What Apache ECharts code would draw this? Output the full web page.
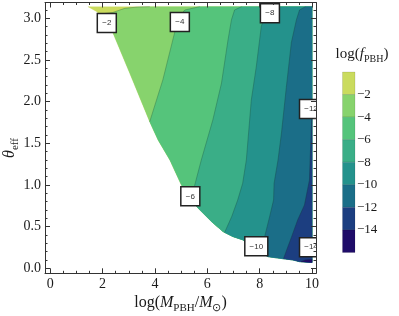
<!DOCTYPE html>
<html>
<head>
<meta charset="utf-8">
<script src="https://cdn.jsdelivr.net/npm/echarts@6/dist/echarts.min.js"></script>
<style>html,body{margin:0;padding:0;background:#fff;}#c{width:399px;height:316px;}</style>
</head>
<body>
<div id="c"></div>
<script>
// ---- tick values ----
const xMajor = [0, 2, 4, 6, 8, 10];
const xMinor = [0, 0.5, 1, 1.5, 2, 2.5, 3, 3.5, 4, 4.5, 5, 5.5, 6, 6.5, 7, 7.5, 8, 8.5, 9, 9.5, 10];
const yMajor = [0, 0.5, 1, 1.5, 2, 2.5, 3];
const yMinor = [0, 0.1, 0.2, 0.3, 0.4, 0.5, 0.6, 0.7, 0.8, 0.9, 1, 1.1, 1.2, 1.3, 1.4, 1.5, 1.6, 1.7, 1.8, 1.9, 2, 2.1, 2.2, 2.3, 2.4, 2.5, 2.6, 2.7, 2.8, 2.9, 3, 3.1];

// ---- data region (lower-left edge of valid region) ----
const yTop = 3.14;
const xRight = 10;
const boundaryX = [1.44, 1.78, 2.09, 2.39, 3.04, 3.80, 4.12, 4.57, 5.01, 5.33, 5.65, 6.16, 6.60, 6.98, 7.36, 7.81, 8.31, 8.76, 9.27, 9.52, 10.0];
const boundaryY = [3.14, 3.08, 2.98, 2.83, 2.34, 1.76, 1.54, 1.30, 1.00, 0.84, 0.72, 0.56, 0.44, 0.38, 0.34, 0.24, 0.14, 0.12, 0.10, 0.08, 0.07];

// ---- contour lines of log(f_PBH), each listed from upper end to boundary end ----
const c2X  = [3.80, 3.31, 2.85, 2.66, 2.39, 1.87];
const c2Y  = [3.14, 3.135, 3.12, 3.10, 3.07, 3.05];
const c4X  = [5.71, 5.14, 4.87, 4.76, 4.30, 3.80];
const c4Y  = [3.14, 3.10, 3.00, 2.84, 2.26, 1.76];
const c6X  = [7.31, 7.04, 6.92, 6.79, 6.54, 6.21, 5.77, 5.52, 5.38];
const c6Y  = [3.14, 3.10, 2.98, 2.74, 2.22, 1.78, 1.30, 1.00, 0.82];
const c8X  = [8.38, 8.19, 8.06, 7.87, 7.68, 7.49, 7.35, 7.16, 6.93, 6.66];
const c8Y  = [3.14, 3.04, 2.90, 2.42, 2.02, 1.30, 1.02, 0.82, 0.62, 0.43];
const c10X = [9.75, 9.52, 9.40, 9.21, 9.02, 8.83, 8.70, 8.55, 8.53, 8.38, 8.19, 8.07];
const c10Y = [3.14, 3.10, 2.98, 2.71, 2.18, 1.62, 1.30, 1.02, 0.82, 0.62, 0.38, 0.19];
const c12X = [10.0, 9.94, 9.90, 9.71, 9.45, 9.22, 9.03, 8.91];
const c12Y = [1.90, 1.42, 1.06, 0.76, 0.58, 0.38, 0.22, 0.115];
const c14X = [10.0, 9.75, 9.58];
const c14Y = [0.105, 0.10, 0.079];

// ---- colour scale ----
const cbLevels = [0, -2, -4, -6, -8, -10, -12, -14, -16];
const cbTicks = [-2, -4, -6, -8, -10, -12, -14];
const bandColors = ['#cadb5e', '#87d36d', '#55c47b', '#3aae87', '#24928c', '#1b6e88', '#1c3e80', '#1f0c69'];

// ---- contour labels ----
const labelText = ['−2', '−4', '−6', '−8', '−10', '−12', '−14'];
const labelX = [2.16, 4.95, 5.35, 8.39, 7.87, 9.96, 9.96];
const labelY = [2.945, 2.957, 0.864, 3.061, 0.264, 1.912, 0.253];

// ---- build polygons ----
const contoursX = [c2X, c4X, c6X, c8X, c10X, c12X, c14X];
const contoursY = [c2Y, c4Y, c6Y, c8Y, c10Y, c12Y, c14Y];
function buildRegion(cx, cy) {
  const pts = cx.map((x, i) => [x, cy[i]]);
  const endX = cx[cx.length - 1];
  for (let i = 0; i < boundaryX.length; i++) {
    if (boundaryX[i] > endX) pts.push([boundaryX[i], boundaryY[i]]);
  }
  if (cy[0] >= yTop - 1e-6) pts.push([xRight, yTop]);
  return pts;
}
const basePoly = boundaryX.map((x, i) => [x, boundaryY[i]]).concat([[xRight, yTop]]);
const regions = [basePoly].concat(contoursX.map((cx, k) => buildRegion(cx, contoursY[k])));

const serif = 'Liberation Serif';
const frameColor = '#333';
const textColor = '#1a1a1a';

function mkX(pos, vals, len, showLine, showLabel) {
  return {
    type: 'value', gridIndex: 0, min: -0.2, max: 10.15, position: pos, z: 10,
    axisLine: {show: showLine, onZero: false, lineStyle: {color: frameColor, width: 1}},
    axisTick: {show: true, inside: true, length: len, customValues: vals, lineStyle: {color: frameColor, width: 1}},
    axisLabel: showLabel ? {show: true, customValues: xMajor, fontFamily: serif, fontSize: 14, color: textColor, margin: 4} : {show: false},
    splitLine: {show: false}
  };
}
function mkY(pos, vals, len, showLine, showLabel) {
  return {
    type: 'value', gridIndex: 0, min: -0.06, max: 3.19, position: pos, z: 10,
    axisLine: {show: showLine, onZero: false, lineStyle: {color: frameColor, width: 1}},
    axisTick: {show: true, inside: true, length: len, customValues: vals, lineStyle: {color: frameColor, width: 1}},
    axisLabel: showLabel ? {show: true, customValues: yMajor, fontFamily: serif, fontSize: 14, color: textColor, margin: 4,
      formatter: v => v.toFixed(1)} : {show: false},
    splitLine: {show: false}
  };
}

const contourLineSeries = contoursX.map((cx, k) => ({
  type: 'line', xAxisIndex: 0, yAxisIndex: 0, silent: true, symbol: 'none', z: 3,
  data: cx.map((x, i) => [x, contoursY[k][i]]),
  lineStyle: {color: 'rgba(20,50,30,0.35)', width: 0.7},
  clip: true, animation: false
}));

const option = {
  animation: false,
  grid: [
    {left: 45, right: 83, top: 2.5, bottom: 42.7},
    {left: 342.5, top: 72, width: 12.5, height: 180.5}
  ],
  xAxis: [
    mkX('bottom', xMajor, 5, true, true),
    mkX('bottom', xMinor, 2.5, false, false),
    mkX('top', xMajor, 5, true, false),
    mkX('top', xMinor, 2.5, false, false),
    {type: 'value', gridIndex: 1, min: 0, max: 1, show: false}
  ],
  yAxis: [
    mkY('left', yMajor, 5, true, true),
    mkY('left', yMinor, 2.5, false, false),
    mkY('right', yMajor, 5, true, false),
    mkY('right', yMinor, 2.5, false, false),
    {type: 'value', gridIndex: 1, min: -16, max: 0, position: 'right',
      axisLine: {show: false}, axisTick: {show: false}, splitLine: {show: false},
      axisLabel: {show: true, customValues: cbTicks, margin: 2, fontFamily: serif, fontSize: 13, color: textColor,
        formatter: v => '−' + Math.abs(v)}}
  ],
  series: [
    {
      type: 'custom', xAxisIndex: 0, yAxisIndex: 0, clip: true, silent: true, z: 2,
      data: regions.map((r, i) => [0, 0]),
      renderItem: (params, api) => {
        const poly = regions[params.dataIndex];
        const col = bandColors[params.dataIndex];
        return {type: 'polygon', shape: {points: poly.map(p => api.coord(p))},
          style: {fill: col, stroke: col, lineWidth: 0.3}};
      }
    }
  ].concat(contourLineSeries).concat([
    {
      type: 'custom', xAxisIndex: 0, yAxisIndex: 0, clip: true, silent: true, z: 5,
      data: labelX.map((x, i) => [x, labelY[i]]),
      renderItem: (params, api) => {
        const c = api.coord([api.value(0), api.value(1)]);
        const t = labelText[params.dataIndex];
        const w = t.length > 2 ? 23 : 19;
        return {type: 'group', children: [
          {type: 'rect', shape: {x: c[0] - w / 2, y: c[1] - 9.5, width: w, height: 19},
            style: {fill: '#fff', stroke: '#222', lineWidth: 1.5}},
          {type: 'text', x: c[0], y: c[1],
            style: {text: t, fill: '#333', fontSize: 8, fontFamily: 'Liberation Sans', align: 'center', verticalAlign: 'middle'}}
        ]};
      }
    },
    {
      type: 'custom', xAxisIndex: 4, yAxisIndex: 4, silent: true, z: 2,
      data: bandColors.map((c, i) => [0, cbLevels[i]]),
      renderItem: (params, api) => {
        const i = params.dataIndex;
        const p0 = api.coord([0, cbLevels[i]]);
        const p1 = api.coord([1, cbLevels[i + 1]]);
        return {type: 'rect', shape: {x: p0[0], y: p0[1], width: p1[0] - p0[0], height: p1[1] - p0[1]},
          style: {fill: bandColors[i], stroke: 'rgba(0,0,0,0.18)', lineWidth: 0.6}};
      }
    }
  ]),
  graphic: [
    {type: 'text', x: 180.5, y: 303, z: 20,
      style: {text: '{n|log(}{i|M}{s|PBH}{n|/}{i|M}{s|⊙}{n|)}', align: 'center', verticalAlign: 'middle',
        rich: {
          n: {fontFamily: serif, fontSize: 16, lineHeight: 21, fill: textColor},
          i: {fontFamily: serif, fontSize: 16, lineHeight: 21, fontStyle: 'italic', fill: textColor},
          s: {fontFamily: serif, fontSize: 11, verticalAlign: 'bottom', fill: textColor}
        }}},
    {type: 'text', x: 10, y: 148, rotation: Math.PI / 2, z: 20,
      style: {text: '{i|θ}{s|eff}', align: 'center', verticalAlign: 'middle',
        rich: {
          i: {fontFamily: serif, fontSize: 16, lineHeight: 21, fontStyle: 'italic', fill: textColor},
          s: {fontFamily: serif, fontSize: 11, verticalAlign: 'bottom', fill: textColor}
        }}},
    {type: 'text', x: 362, y: 54, z: 20,
      style: {text: '{n|log(}{i|f}{s|PBH}{n|)}', align: 'center', verticalAlign: 'middle',
        rich: {
          n: {fontFamily: serif, fontSize: 15, lineHeight: 20, fill: textColor},
          i: {fontFamily: serif, fontSize: 15, lineHeight: 20, fontStyle: 'italic', fill: textColor},
          s: {fontFamily: serif, fontSize: 10, verticalAlign: 'bottom', fill: textColor}
        }}}
  ]
};
const chart = echarts.init(document.getElementById('c'), null, {renderer: 'canvas'});
chart.setOption(option);
</script>
</body>
</html>
